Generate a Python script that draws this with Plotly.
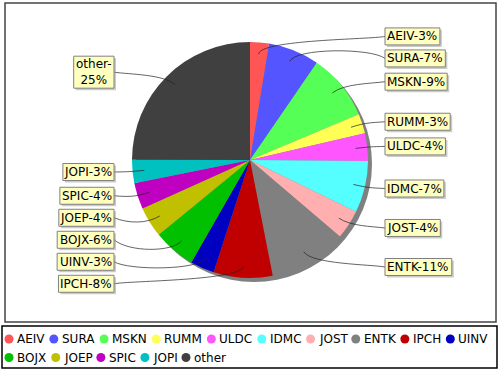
import math
import plotly.graph_objects as go

# ---------------- data ----------------
categories = ["AEIV", "SURA", "MSKN", "RUMM", "ULDC", "IDMC", "JOST", "ENTK",
              "IPCH", "UINV", "BOJX", "JOEP", "SPIC", "JOPI", "other"]
shares = [2.6, 7.0, 9.1, 2.7, 3.8, 7.1, 4.0, 10.7, 8.1, 3.3, 5.8, 4.2, 3.6, 3.2, 25.0]
colors = ["#FF5555", "#5555FF", "#55FF55", "#FFFF55", "#FF55FF", "#55FFFF",
          "#FFAFAF", "#808080", "#C00000", "#0000C0", "#00C000", "#C0C000",
          "#C000C0", "#00C0C0", "#404040"]

# ---------------- layout constants (pixels) ----------------
W, H = 500, 370
CX, CY, R = 250, 160, 118
FONT = "DejaVu Sans"
LINK_R = R * 0.9          # where link lines start inside the slice
ELBOW_R = R * 1.025       # elbow radius
LABEL_R = 124             # natural radius for label y placement
RIGHT_EDGE = CX + 135     # left edge of right-side label boxes
LEFT_EDGE = CX - 136      # right edge of left-side label boxes
GAP = 22                  # min vertical spacing of labels
LINE_H = 15               # label line height
PAD = 2                   # label box padding

total = sum(shares)

# DejaVu Sans advance widths (em)
CHAR_W = {"A": .684, "B": .686, "C": .698, "D": .770, "E": .632, "H": .752,
          "I": .295, "J": .295, "K": .656, "L": .557, "M": .863, "N": .748,
          "O": .787, "P": .603, "R": .695, "S": .635, "T": .611, "U": .732,
          "V": .684, "X": .686, "e": .615, "h": .634, "o": .612, "r": .411,
          "t": .392, "-": .361, "%": .950}


def text_w(s, size):
    return sum(CHAR_W.get(c, 0.636) for c in s) * size


fig = go.Figure()

# pie
fig.add_trace(go.Pie(
    labels=categories, values=shares, sort=False, direction="clockwise",
    rotation=0, marker=dict(colors=colors, line=dict(width=0)),
    textinfo="none", hoverinfo="label+percent", showlegend=False,
    domain=dict(x=[(CX - R) / W, (CX + R) / W],
                y=[1 - (CY + R) / H, 1 - (CY - R) / H]),
))

shapes = []
annotations = []

# frames
shapes.append(dict(type="rect", xref="x", yref="y", x0=5, y0=3, x1=496, y1=322,
                   line=dict(color="#444444", width=1.5), layer="below"))
shapes.append(dict(type="rect", xref="x", yref="y", x0=2, y0=326, x1=497, y1=368,
                   line=dict(color="#000000", width=1.5), layer="below"))
# pie shadow
shapes.append(dict(type="circle", xref="x", yref="y", x0=CX - R + 4, x1=CX + R + 4,
                   y0=CY - R + 4, y1=CY + R + 4, fillcolor="#808080",
                   line=dict(width=0), layer="below"))

# label geometry
cum = 0.0
items = []
for name, v in zip(categories, shares):
    mid = (cum + v / 2) / total * 2 * math.pi
    cum += v
    dx, dy = math.sin(mid), -math.cos(mid)
    pct = round(100 * v / total)
    lines = [f"{name}-", f"{pct}%"] if len(name) > 4 else [f"{name}-{pct}%"]
    items.append(dict(name=name, dx=dx, dy=dy, lines=lines,
                      y=CY + dy * LABEL_R, right=dx >= 0))

right = sorted([it for it in items if it["right"]], key=lambda d: d["y"])
left = sorted([it for it in items if not it["right"]], key=lambda d: d["y"])
for i in range(1, len(right)):
    right[i]["y"] = max(right[i]["y"], right[i - 1]["y"] + GAP)
for i in range(len(left) - 2, -1, -1):
    left[i]["y"] = min(left[i]["y"], left[i + 1]["y"] - GAP)

for it in items:
    x0, y0 = CX + it["dx"] * LINK_R, CY + it["dy"] * LINK_R
    ex, ey = CX + it["dx"] * ELBOW_R, CY + it["dy"] * ELBOW_R
    bw = max(text_w(s, 12) for s in it["lines"]) + 2 * PAD
    bh = LINE_H * len(it["lines"]) + 2
    if it["right"]:
        ax, tx = CX + ELBOW_R, RIGHT_EDGE
        bx0 = tx
    else:
        ax, tx = CX - ELBOW_R, LEFT_EDGE
        bx0 = tx - bw
    ty = it["y"]
    by0 = ty - bh / 2
    shapes.append(dict(type="path", xref="x", yref="y", layer="above",
                       path=f"M {x0:.2f},{y0:.2f} C {ex:.2f},{ey:.2f} {ax:.2f},{ey:.2f} {tx:.2f},{ty:.2f}",
                       line=dict(color="#222222", width=0.7)))
    # label shadow
    shapes.append(dict(type="rect", xref="x", yref="y", layer="above",
                       x0=bx0 + 2, x1=bx0 + bw + 2, y0=by0 + 2, y1=by0 + bh + 2,
                       fillcolor="rgba(151,151,151,0.5)", line=dict(width=0)))
    # label box
    shapes.append(dict(type="rect", xref="x", yref="y", layer="above",
                       x0=bx0, x1=bx0 + bw, y0=by0, y1=by0 + bh,
                       fillcolor="#FFFFC0", line=dict(color="#808080", width=1)))
    annotations.append(dict(xref="x", yref="y", x=bx0 + bw / 2, y=ty,
                            xanchor="center", yanchor="middle",
                            text="<br>".join(it["lines"]), showarrow=False,
                            align="center", borderpad=0, borderwidth=0,
                            font=dict(family=FONT, size=12, color="#000000")))

# manual legend (circle markers + text)
LEG_SIZE = 12
leg_x, leg_y = [], []
row_y = [339, 357.5]
x, row = 9, 0
for name in categories:
    w = text_w(name, LEG_SIZE)
    if x + 9 + w > 492:
        row += 1
        x = 9
    leg_x.append(x)
    leg_y.append(row_y[row])
    annotations.append(dict(xref="x", yref="y", x=x + 8, y=row_y[row],
                            xanchor="left", yanchor="middle", text=name,
                            showarrow=False, borderpad=0, borderwidth=0,
                            font=dict(family=FONT, size=LEG_SIZE, color="#000000")))
    x = x + w + 17.3

fig.add_trace(go.Scatter(x=leg_x, y=leg_y, mode="markers", hoverinfo="skip",
                         marker=dict(size=9, color=colors, line=dict(width=0)),
                         showlegend=False, cliponaxis=False))

fig.update_layout(
    width=W, height=H, margin=dict(l=0, r=0, t=0, b=0),
    paper_bgcolor="white", plot_bgcolor="rgba(0,0,0,0)",
    xaxis=dict(range=[0, W], visible=False, fixedrange=True, domain=[0, 1]),
    yaxis=dict(range=[H, 0], visible=False, fixedrange=True, domain=[0, 1]),
    shapes=shapes, annotations=annotations, showlegend=False,
    font=dict(family=FONT),
)

fig.write_html("out.html", config={"displayModeBar": False},
               post_script="document.body.style.margin='0';document.body.style.overflow='hidden';")
